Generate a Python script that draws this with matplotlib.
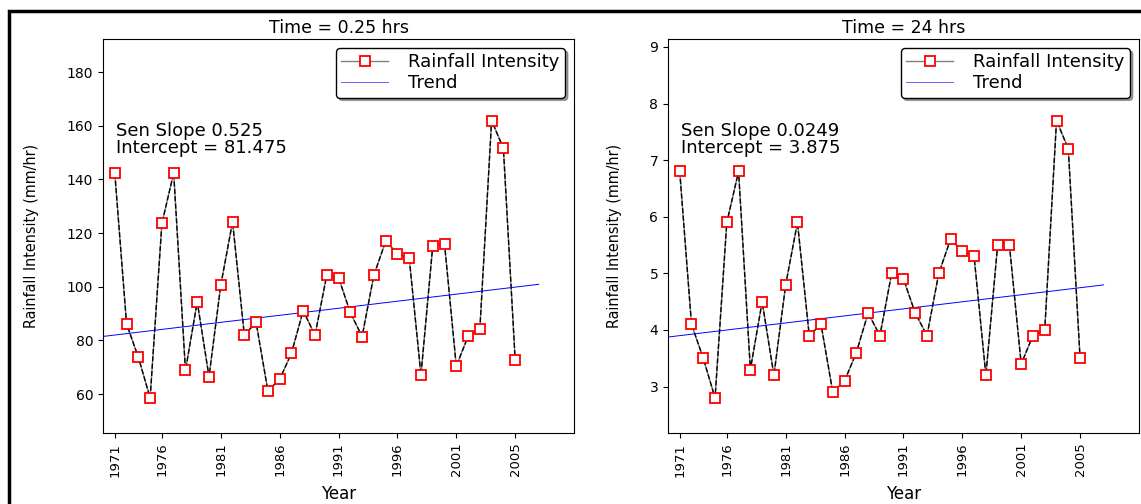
import numpy as np
import matplotlib
matplotlib.use("Agg")
import matplotlib.pyplot as plt
from matplotlib.lines import Line2D
from matplotlib.patches import Rectangle

# ---- data ----
x_index = list(range(1, 36))  # 35 observations (1971-2005)
tick_positions = [1, 5, 10, 15, 20, 25, 30, 35]
tick_labels = ['1971', '1976', '1981', '1986', '1991', '1996', '2001', '2005']

rain_025 = [142.2, 86.1, 73.7, 58.6, 123.6, 142.4, 68.8, 94.4, 66.5, 100.6,
            124.2, 82.0, 86.7, 61.2, 65.5, 75.2, 91.1, 81.9, 104.3, 103.4,
            90.4, 81.4, 104.3, 116.9, 112.3, 110.8, 67.1, 115.2, 116.1, 70.4,
            81.5, 84.1, 161.9, 151.6, 72.8]
rain_24 = [6.8, 4.1, 3.5, 2.8, 5.9, 6.8, 3.3, 4.5, 3.2, 4.8,
           5.9, 3.9, 4.1, 2.9, 3.1, 3.6, 4.3, 3.9, 5.0, 4.9,
           4.3, 3.9, 5.0, 5.6, 5.4, 5.3, 3.2, 5.5, 5.5, 3.4,
           3.9, 4.0, 7.7, 7.2, 3.5]

titles = ['Time = 0.25 hrs', 'Time = 24 hrs']
slopes = [0.525, 0.0249]
intercepts = [81.475, 3.875]
slope_texts = ['0.525', '0.0249']
intercept_texts = ['81.475', '3.875']
trend_range = [0, 37]
ylims = [(45.5, 192.3), (2.18, 9.14)]
yticks = [[60, 80, 100, 120, 140, 160, 180], [3, 4, 5, 6, 7, 8, 9]]

fig = plt.figure(figsize=(11.41, 5.04), dpi=100)
positions = [[0.0903, 0.1409, 0.4128, 0.7817], [0.5854, 0.1409, 0.4128, 0.7817]]

for i, series in enumerate([rain_025, rain_24]):
    ax = fig.add_axes(positions[i])
    ax.plot(x_index, series, color='gray', lw=1.0, zorder=1.8)
    ax.plot(x_index, series, color='black', lw=1.0, ls='--', zorder=1.9)
    ax.plot(x_index, series, ls='none', marker='s', ms=7.5, mfc='white',
            mec='red', mew=1.3, zorder=3)
    tx = np.array(trend_range, dtype=float)
    ax.plot(tx, intercepts[i] + slopes[i] * tx, color='blue', lw=0.7, zorder=2)

    ax.set_xlim(0, 40)
    ax.set_ylim(*ylims[i])
    ax.set_yticks(yticks[i])
    ax.set_xticks(tick_positions)
    ax.set_xticklabels(tick_labels, rotation=90)
    ax.tick_params(axis='y', labelsize=10)
    ax.tick_params(axis='x', labelsize=9.5)
    ax.set_title(titles[i], fontsize=12.5, pad=4)
    ax.set_xlabel('Year', fontsize=12, labelpad=6)
    ax.set_ylabel('Rainfall Intensity (mm/hr)', fontsize=11.5,
                  fontstretch='condensed', labelpad=20)
    ax.text(0.028, 0.79, f'Sen Slope {slope_texts[i]}\nIntercept = {intercept_texts[i]}',
            transform=ax.transAxes, fontsize=13, va='top', ha='left',
            linespacing=0.95)

    handles = [Line2D([], [], color='gray', lw=1.0, marker='s', ms=7.5, mfc='white',
                      mec='red', mew=1.3),
               Line2D([], [], color='blue', lw=0.7, alpha=0.6)]
    leg = ax.legend(handles, ['Rainfall Intensity', 'Trend'], loc='upper right',
                    fontsize=13, fancybox=True, shadow=True, framealpha=1,
                    handlelength=2.6, handletextpad=1.1, borderaxespad=0.5,
                    borderpad=0.3, labelspacing=0.15)
    leg.get_frame().set_edgecolor('black')
    leg.get_frame().set_linewidth(1.0)

# outer frame of the figure image
fig.patches.append(Rectangle((9 / 1141, -0.1), 1.2, (504 - 11) / 504 + 0.1,
                             transform=fig.transFigure, fill=False,
                             edgecolor='black', lw=2.5, clip_on=False))

fig.savefig('out.png', dpi=100)
